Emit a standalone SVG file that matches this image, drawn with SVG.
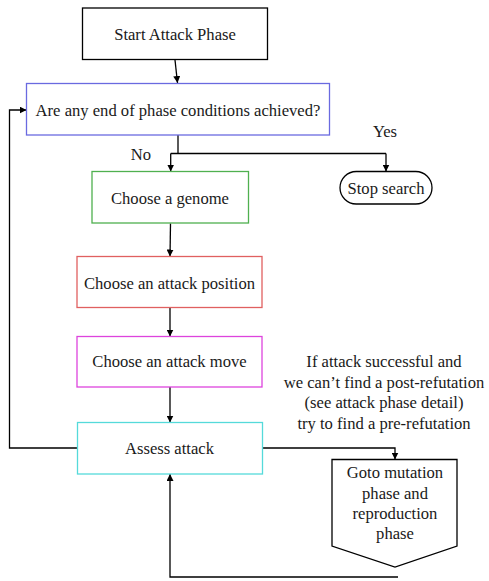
<svg xmlns="http://www.w3.org/2000/svg" width="489" height="581" viewBox="0 0 489 581">
<defs>
<marker id="arr" viewBox="0 0 10 10" refX="10" refY="5" markerWidth="7" markerHeight="7" markerUnits="userSpaceOnUse" orient="auto">
<path d="M0,0 L10,5 L0,10 z" fill="#000"/>
</marker>
<style>
text{font-family:'Liberation Serif','Times New Roman',serif;font-size:16.6px;fill:#1a1a1a;text-anchor:middle}
.box{fill:#fff;stroke-width:1.3}
.c{fill:none;stroke:#000;stroke-width:1.3}
</style>
</defs>
<rect width="489" height="581" fill="#fff"/>
<g id="connectors">
<path class="c" d="M175,60 L177.5,83" marker-end="url(#arr)"/>
<path class="c" d="M178,135 L178,153.5"/>
<path class="c" d="M170.7,153.5 L386,153.5"/>
<path class="c" d="M170.7,153.5 L170.7,171.5" marker-end="url(#arr)"/>
<path class="c" d="M386,153.5 L386,171.5" marker-end="url(#arr)"/>
<path class="c" d="M170.5,223.5 L170,256.5" marker-end="url(#arr)"/>
<path class="c" d="M170,307.5 L170,336.5" marker-end="url(#arr)"/>
<path class="c" d="M170,387 L170,422.5" marker-end="url(#arr)"/>
<path class="c" d="M77.5,448 L9.5,448 L9.5,110 L26.5,110" marker-end="url(#arr)"/>
<path class="c" d="M262.5,448 L395,448 L395,459.5" marker-end="url(#arr)"/>
<path class="c" d="M398,577 L170,577 L170,474" marker-end="url(#arr)"/>
<text x="141" y="160">No</text>
<text x="385" y="137">Yes</text>
</g>
<g id="start">
<rect class="box" x="82.5" y="8" width="185" height="51.5" stroke="#000"/>
<text x="175" y="40">Start Attack Phase</text>
</g>
<g id="conditions">
<rect class="box" x="26.5" y="83.5" width="303" height="51.5" stroke="#6a6ae0"/>
<text x="178" y="116">Are any end of phase conditions achieved?</text>
</g>
<g id="genome">
<rect class="box" x="92" y="171.5" width="156.5" height="51.5" stroke="#4fb04f"/>
<text x="170" y="204">Choose a genome</text>
</g>
<g id="stop">
<rect class="box" x="340" y="171.5" width="92" height="32.5" rx="16.25" stroke="#000"/>
<text x="386" y="194">Stop search</text>
</g>
<g id="position">
<rect class="box" x="77" y="256.5" width="185" height="51" stroke="#e06060"/>
<text x="169.5" y="289">Choose an attack position</text>
</g>
<g id="move">
<rect class="box" x="77" y="336.5" width="185" height="50.5" stroke="#dd44dd"/>
<text x="169.5" y="367">Choose an attack move</text>
</g>
<g id="assess">
<rect class="box" x="77.5" y="422.5" width="185" height="51.5" stroke="#55dada"/>
<text x="169.5" y="454">Assess attack</text>
</g>
<g id="note">
<text x="384" y="367">If attack successful and</text>
<text x="384" y="388">we can’t find a post-refutation</text>
<text x="384" y="408">(see attack phase detail)</text>
<text x="384" y="428.5">try to find a pre-refutation</text>
</g>
<g id="goto">
<path class="box" d="M332,459.5 L457,459.5 L457,546 L395,567 L332,546 Z" stroke="#000"/>
<text x="395" y="478">Goto mutation</text>
<text x="395" y="499">phase and</text>
<text x="395" y="519">reproduction</text>
<text x="395" y="539">phase</text>
</g>
</svg>
